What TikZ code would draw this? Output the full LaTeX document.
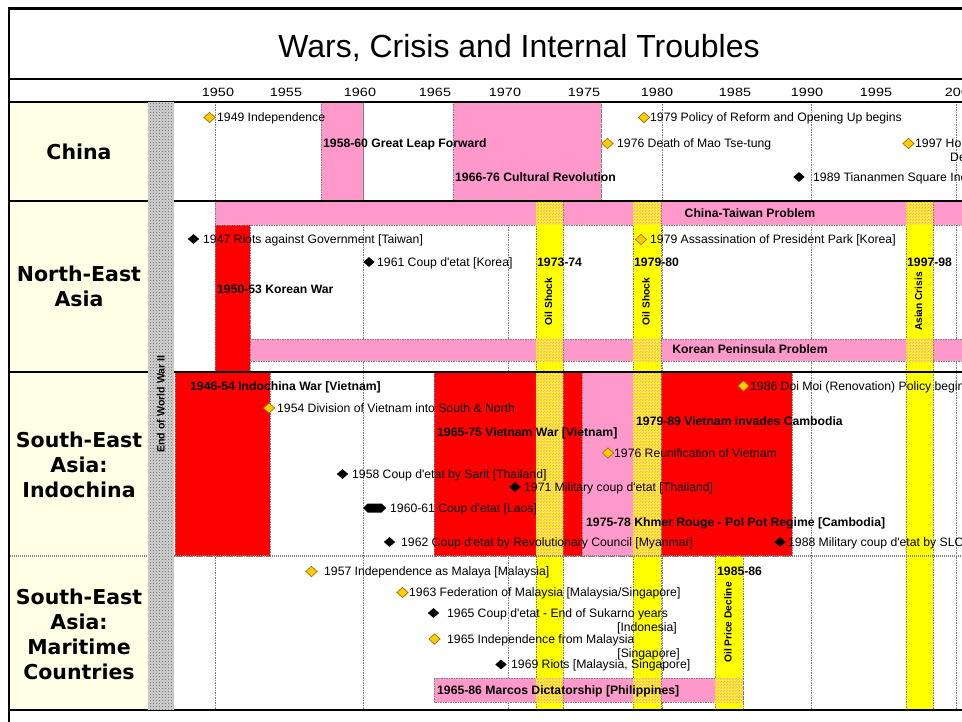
\documentclass[tikz,border=0pt]{standalone}
\usepackage{fontspec}
\setmainfont{Liberation Sans}[Ligatures=TeXOff]
\newfontfamily\regfont{DejaVu Sans}[Ligatures=TeXOff]
\newfontfamily\yearfont{Liberation Sans}[FakeStretch=1.2]
\usetikzlibrary{shapes.geometric,patterns}
\pgfdeclarepatternformonly{finecheck}{\pgfpointorigin}{\pgfqpoint{3pt}{3pt}}{\pgfqpoint{3pt}{3pt}}{%
  \pgfpathrectangle{\pgfpointorigin}{\pgfqpoint{1.5pt}{1.5pt}}%
  \pgfpathrectangle{\pgfqpoint{1.5pt}{1.5pt}}{\pgfqpoint{1.5pt}{1.5pt}}%
  \pgfusepath{fill}}
\pgfdeclarepatternformonly{finedots}{\pgfqpoint{-0.5pt}{-0.5pt}}{\pgfqpoint{0.5pt}{0.5pt}}{\pgfqpoint{3pt}{3pt}}{%
  \pgfpathrectangle{\pgfqpoint{-0.5pt}{-0.5pt}}{\pgfqpoint{1pt}{1pt}}%
  \pgfusepath{fill}}
\definecolor{pinkc}{RGB}{255,153,204}
\definecolor{redc}{RGB}{255,0,0}
\definecolor{yelc}{RGB}{255,255,0}
\definecolor{labbg}{RGB}{255,255,229}
\definecolor{stripec}{RGB}{200,200,200}
\definecolor{goldc}{RGB}{255,204,0}
\definecolor{goldline}{RGB}{150,100,0}
\definecolor{gridc}{RGB}{128,128,128}
\tikzset{
  gridline/.style={draw=gridc, line width=1pt, dash pattern=on 1.5pt off 1pt},
  cellborder/.style={draw=gridc, line width=0.8pt, dash pattern=on 1.5pt off 1pt},
  pinkblock/.style={fill=pinkc, cellborder},
  redblock/.style={fill=redc, cellborder},
  yelband/.style={fill=yelc, cellborder},
  mix/.style={pattern=finecheck, pattern color=pinkc, preaction={fill=yelc}},
  ydia/.style={diamond, fill=goldc, draw=goldline, line width=0.6pt, minimum width=11.5pt, minimum height=10.5pt, inner sep=0pt},
  bdia/.style={diamond, fill=black, minimum width=11.5pt, minimum height=10pt, inner sep=0pt},
  ev/.style={anchor=west, inner sep=0pt, text height=8.8pt, text depth=0pt, font=\fontsize{12.2}{14}\selectfont},
  evb/.style={anchor=west, inner sep=0pt, text height=8.8pt, text depth=0pt, font=\bfseries\fontsize{12.2}{14}\selectfont},
  evc/.style={inner sep=0pt, text height=8.8pt, text depth=0pt, font=\bfseries\fontsize{12.2}{14}\selectfont},
  rot/.style={rotate=90, inner sep=0pt, text height=7.3pt, text depth=0pt, font=\bfseries\fontsize{10.2}{12}\selectfont},
  region/.style={align=center, inner sep=0pt, font=\regfont\bfseries\fontsize{20.5}{25}\selectfont},
  yearlab/.style={inner sep=0pt, text height=8.6pt, text depth=0pt, font=\yearfont\fontsize{12}{14}\selectfont},
}
\begin{document}
\begin{tikzpicture}[x=1pt,y=-1pt]
\useasboundingbox (0,0) rectangle (962,722);
\clip (0,0) rectangle (962,722);
\fill[white] (0,0) rectangle (962,722);
% label column
\fill[labbg] (10,102) rectangle (148,710);
% grid lines
\foreach \gx in {215,363,508,662,811,956} \draw[gridline] (\gx,102) -- (\gx,710);
\foreach \gx in {453,601} \draw[gridline] (\gx,102) -- (\gx,201);
\draw[gridline] (250,225) -- (250,339);
% blocks
\draw[pinkblock] (321,102) rectangle (363,201);
\draw[pinkblock] (453,102) rectangle (601,201);
\draw[pinkblock] (215,201) rectangle (970,225);
\draw[redblock] (215,225) rectangle (250,372);
\draw[pinkblock] (250,339) rectangle (970,361);
\draw[redblock] (175,372) rectangle (270,556);
\draw[redblock] (434,372) rectangle (582,556);
\draw[pinkblock] (582,372) rectangle (633,556);
\draw[redblock] (661,372) rectangle (792,556);
\draw[pinkblock] (434,678) rectangle (743,702);
% yellow bands
\draw[yelband] (536,201) rectangle (563,710);
\draw[yelband] (633,201) rectangle (661,710);
\draw[yelband] (906,201) rectangle (933,710);
\draw[yelband] (715,556) rectangle (743,710);
% mixed intersections
\foreach \a/\b in {536/563,633/661,906/933} {
  \fill[mix] (\a,201) rectangle (\b,225);
  \fill[mix] (\a,339) rectangle (\b,361);
}
\foreach \a/\b in {536/563,633/661} \fill[mix] (\a,372) rectangle (\b,556);
\foreach \a/\b in {536/563,633/661,715/743} \fill[mix] (\a,678) rectangle (\b,702);
% separators
\draw[line width=1.2pt] (8,79) -- (962,79);
\draw[line width=1.2pt] (8,102) -- (962,102);
\draw[line width=1.5pt] (8,201) -- (962,201);
\draw[line width=2.2pt] (8,372) -- (962,372);
\draw[gridc, line width=1.3pt, dash pattern=on 1pt off 1pt] (8,556) -- (962,556);
\draw[line width=1.5pt] (8,710) -- (962,710);
% End of WWII stripe
\fill[stripec] (148,102) rectangle (174,710);
\fill[pattern=finedots, pattern color=gray!70!black] (148,102) rectangle (174,710);
% frame
\draw[line width=2.5pt] (9,722) -- (9,8.3) -- (962,8.3);

% title
\node[font=\fontsize{32}{38}\selectfont, inner sep=0pt] (title) at (519,47.5) {Wars, Crisis and Internal Troubles};
% years
\foreach \yr/\xx in {1950/218,1955/286,1960/360,1965/435,1970/505,1975/584,1980/657,1985/735,1990/807,1995/876,2000/961}
  \node[yearlab] (yr\yr) at (\xx,92.5) {\yr};

% region labels
\node[region] (rchina) at (79,152) {China};
\node[region] (rnea) at (79,286) {North-East\\Asia};
\node[region] (rsea) at (79,465) {South-East\\Asia:\\Indochina};
\node[region] (rsem) at (79,634) {South-East\\Asia:\\Maritime\\Countries};

% rotated labels
\node[rot, font=\bfseries\fontsize{10.6}{12}\selectfont] (ww2) at (161,404) {End of World War II};
\node[rot] (os1) at (548.5,301.5) {Oil Shock};
\node[rot] (os2) at (646,301.5) {Oil Shock};
\node[rot] (ac) at (918.5,301.5) {Asian Crisis};
\node[rot] (opd) at (728,622.5) {Oil Price Decline};

% China
\node[ydia] (d49) at (209.5,117.5) {};
\node[ev] (t49) at (217,117.5) {1949 Independence};
\node[evb] (t58) at (323,143.5) {1958-60 Great Leap Forward};
\node[evb] (t66) at (455,177) {1966-76 Cultural Revolution};
\node[ydia] (d79) at (644,117.5) {};
\node[ev] (t79) at (650,117.5) {1979 Policy of Reform and Opening Up begins};
\node[ydia] (d76) at (607.5,143.5) {};
\node[ev] (t76) at (617,143.5) {1976 Death of Mao Tse-tung};
\node[bdia] (d89) at (799,177) {};
\node[ev] (t89) at (813,177) {1989 Tiananmen Square Incident};
\node[ydia] (d97) at (908.5,143.5) {};
\node[ev] (t97) at (915,143.5) {1997 Hong Kong Returned};
\node[ev] (t97b) at (950,157) {Death of Deng Xiaoping};

% North-East Asia
\node[evc] (cta) at (750,213) {China-Taiwan Problem};
\node[evc] (kpp) at (750,349.5) {Korean Peninsula Problem};
\node[bdia] (d47) at (193.5,239) {};
\node[ev] (t47) at (203,239.5) {1947 Riots against Government [Taiwan]};
\node[bdia] (d61) at (369,262) {};
\node[ev] (t61) at (377,262) {1961 Coup d'etat [Korea]};
\node[evb] (t50) at (217,289) {1950-53 Korean War};
\node[ydia] (d79b) at (641,239.5) {};
\node[ev] (t79b) at (650,239.5) {1979 Assassination of President Park [Korea]};
\node[evb] (p73) at (537,262) {1973-74};
\node[evb] (p79) at (634,262) {1979-80};
\node[evb] (p97) at (907,262) {1997-98};

% South-East Asia: Indochina
\node[evb] (t46) at (190,386) {1946-54 Indochina War [Vietnam]};
\node[ydia] (d54) at (269,408) {};
\node[ev] (t54) at (277,408) {1954 Division of Vietnam into South \& North};
\node[evb] (t65v) at (437,432) {1965-75 Vietnam War [Vietnam]};
\node[bdia] (d58) at (342.5,474) {};
\node[ev] (t58s) at (352,474) {1958 Coup d'etat by Sarit [Thailand]};
\fill[black] (363,508) -- (367.5,503.5) -- (381.5,503.5) -- (386,508) -- (381.5,512.5) -- (367.5,512.5) -- cycle;
\node[ev] (t60) at (390,508) {1960-61 Coup d'etat [Laos]};
\node[bdia] (d62) at (389.5,542) {};
\node[ev] (t62) at (401,542) {1962 Coup d'etat by Revolutionary Council [Myanmar]};
\node[bdia] (d71) at (515,487) {};
\node[ev] (t71) at (524,487) {1971 Military coup d'etat [Thailand]};
\node[ydia] (d76r) at (608,453) {};
\node[ev] (t76r) at (614,453) {1976 Reunification of Vietnam};
\node[evb] (t79v) at (636,421) {1979-89 Vietnam invades Cambodia};
\node[ydia] (d86) at (743.5,386) {};
\node[ev] (t86) at (750,386) {1986 Doi Moi (Renovation) Policy begins};
\node[evb] (t75) at (586,522) {1975-78 Khmer Rouge - Pol Pot Regime [Cambodia]};
\node[bdia] (d88) at (780,542) {};
\node[ev] (t88) at (788,542) {1988 Military coup d'etat by SLORC [Myanmar]};

% South-East Asia: Maritime Countries
\node[ydia] (d57) at (311.5,571.5) {};
\node[ev] (t57) at (324,571.5) {1957 Independence as Malaya [Malaysia]};
\node[ydia] (d63) at (402.5,592.5) {};
\node[ev] (t63) at (409,592.5) {1963 Federation of Malaysia [Malaysia/Singapore]};
\node[bdia] (d65c) at (433.5,613) {};
\node[ev] (t65c) at (447,613) {1965 Coup d'etat - End of Sukarno years};
\node[ev, anchor=east] (t65c2) at (677,627) {[Indonesia]};
\node[ydia] (d65i) at (434.5,639) {};
\node[ev] (t65i) at (447,639) {1965 Independence from Malaysia};
\node[ev, anchor=east] (t65i2) at (680,653) {[Singapore]};
\node[bdia] (d69) at (501,664.5) {};
\node[ev] (t69) at (511,664.5) {1969 Riots [Malaysia, Singapore]};
\node[evb] (t65m) at (437,690) {1965-86 Marcos Dictatorship [Philippines]};
\node[evb] (p85) at (717,571.5) {1985-86};
\end{tikzpicture}
\end{document}
